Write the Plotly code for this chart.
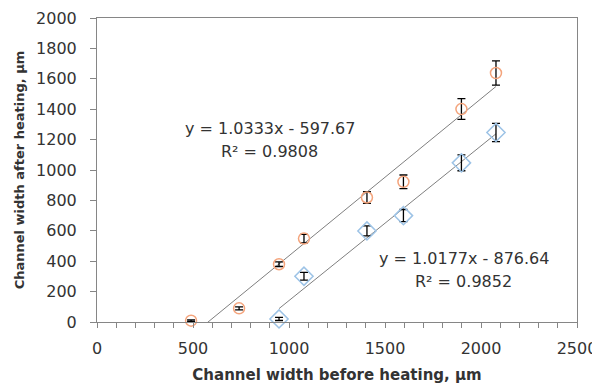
import plotly.graph_objects as go

# Series 1 (orange circles)
x1 = [490, 740, 948, 1078, 1406, 1596, 1898, 2078]
y1 = [9, 90, 380, 549, 819, 922, 1401, 1638]
e1 = [5, 10, 15, 28, 38, 45, 68, 80]

# Series 2 (blue diamonds)
x2 = [948, 1078, 1406, 1596, 1898, 2078]
y2 = [20, 301, 599, 700, 1047, 1247]
e2 = [10, 25, 33, 40, 52, 60]

# Trendline equations
slope1, icpt1 = 1.0333, -597.67
slope2, icpt2 = 1.0177, -876.64
eq1 = ["y = 1.0333x - 597.67", "R² = 0.9808"]
eq2 = ["y = 1.0177x - 876.64", "R² = 0.9852"]

x_ticks = [0, 500, 1000, 1500, 2000, 2500]
y_ticks = [0, 200, 400, 600, 800, 1000, 1200, 1400, 1600, 1800, 2000]

FONT = "DejaVu Sans"
ORANGE = "#F4A47C"
BLUE = "#9DC3E6"
GRAY = "#868686"
TXT = "#333333"

fig = go.Figure()

# trendlines
tx1 = [min(x1), max(x1)]
fig.add_trace(go.Scatter(x=tx1, y=[slope1 * v + icpt1 for v in tx1], mode="lines",
                         line=dict(color="#7F7F7F", width=1), hoverinfo="skip"))
tx2 = [min(x2), max(x2)]
fig.add_trace(go.Scatter(x=tx2, y=[slope2 * v + icpt2 for v in tx2], mode="lines",
                         line=dict(color="#7F7F7F", width=1), hoverinfo="skip"))

fig.add_trace(go.Scatter(
    x=x1, y=y1, mode="markers", cliponaxis=False,
    marker=dict(symbol="circle-open", size=11, color=ORANGE, line=dict(width=1.5, color=ORANGE)),
    error_y=dict(type="data", array=e1, visible=True, color="black", thickness=1.3, width=4),
))
fig.add_trace(go.Scatter(
    x=x2, y=y2, mode="markers", cliponaxis=False,
    marker=dict(symbol="diamond-open", size=14, color=BLUE, line=dict(width=1.5, color=BLUE)),
    error_y=dict(type="data", array=e2, visible=True, color="black", thickness=1.3, width=4),
))

ann_font = dict(family=FONT, size=16, color=TXT)
fig.add_annotation(x=901, y=1271, text=eq1[0], showarrow=False, font=ann_font)
fig.add_annotation(x=901, y=1119, text=eq1[1], showarrow=False, font=ann_font)
fig.add_annotation(x=1911, y=419, text=eq2[0], showarrow=False, font=ann_font)
fig.add_annotation(x=1911, y=267, text=eq2[1], showarrow=False, font=ann_font)

# page body has an 8px default margin, so the figure is sized/offset to compensate
fig.update_layout(
    width=592, height=379,
    margin=dict(l=89, r=23, t=10, b=65),
    paper_bgcolor="white", plot_bgcolor="white",
    showlegend=False,
    font=dict(family=FONT, size=16, color=TXT),
)
fig.update_xaxes(
    range=[0, 2500], tickvals=x_ticks, ticktext=[str(v) for v in x_ticks],
    showgrid=False, zeroline=False, automargin=False,
    showline=True, linecolor=GRAY, linewidth=1, mirror=True,
    ticks="outside", ticklen=5, tickcolor=GRAY,
    minor=dict(dtick=100, ticks="outside", ticklen=5, tickcolor=GRAY, showgrid=False),
    tickfont=dict(family=FONT, size=16, color=TXT),
    ticklabeloverflow="allow", ticklabelstandoff=7,
    title=dict(text="<b>Channel width before heating, µm</b>", standoff=12,
               font=dict(family=FONT, size=15, color=TXT)),
)
fig.update_yaxes(
    range=[0, 2000], tickvals=y_ticks, ticktext=[str(v) for v in y_ticks],
    showgrid=False, zeroline=False, automargin=False,
    showline=True, linecolor=GRAY, linewidth=1, mirror=True,
    ticks="outside", ticklen=6, tickcolor=GRAY,
    tickfont=dict(family=FONT, size=16, color=TXT),
    ticklabelstandoff=10,
    title=dict(text="<b>Channel width after heating, µm</b>", standoff=8,
               font=dict(family=FONT, size=13, color=TXT)),
)

fig.write_html("out.html")
